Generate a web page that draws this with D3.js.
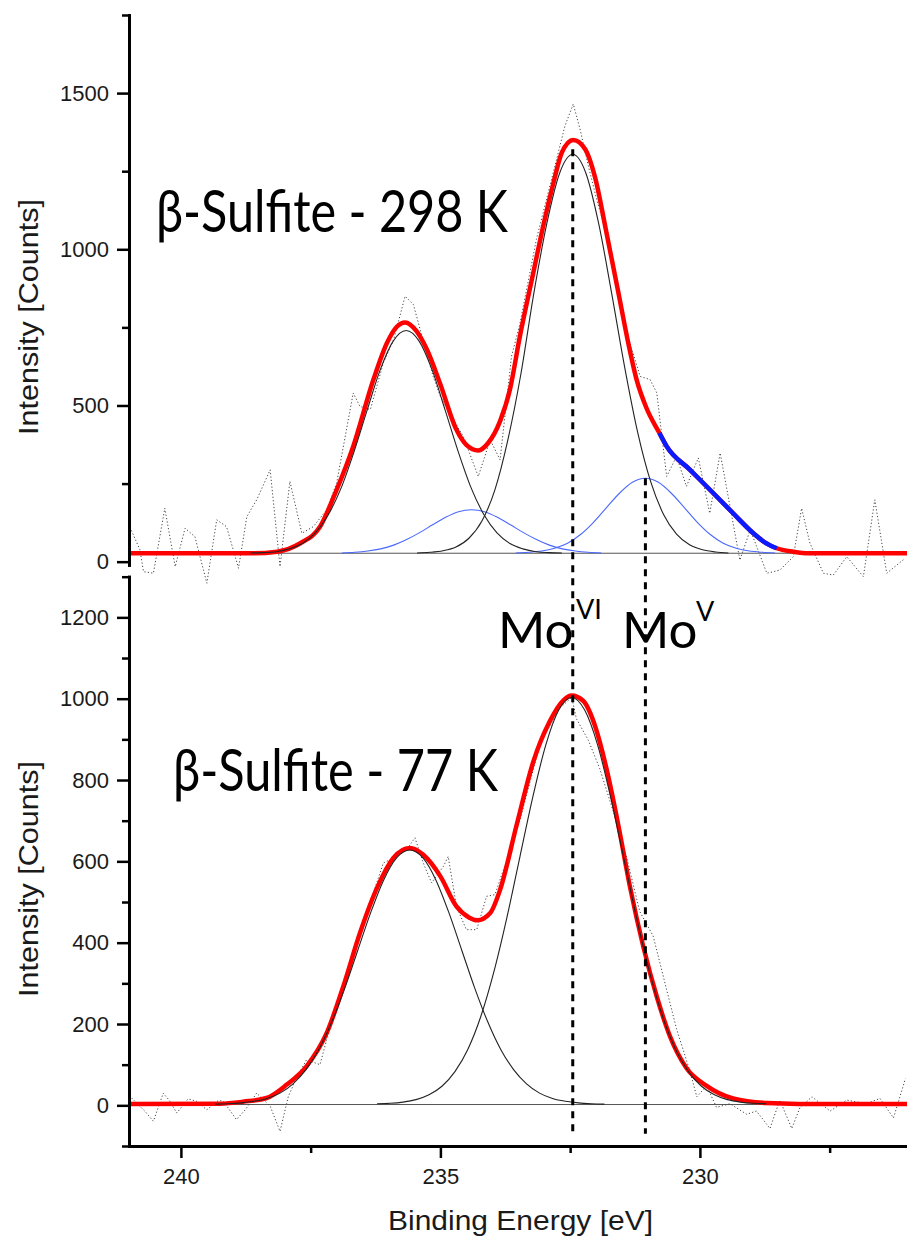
<!DOCTYPE html>
<html>
<head>
<meta charset="utf-8">
<script src="https://cdn.jsdelivr.net/npm/d3@7"></script>
<style>
  body { margin: 0; background: #fff; }
  .axis text { font-family: "Liberation Sans", Arial, sans-serif; font-size: 22px; fill: #1a1a1a; }
  .axis path, .axis line { stroke: #000; }
  .big { font-family: Lato, "Open Sans", sans-serif; fill: #000; }
  .title { font-family: "Liberation Sans", Arial, sans-serif; font-size: 28px; fill: #1a1a1a; }
</style>
</head>
<body>
<div id="chart"></div>
<script>
/* x axis: binding energy (reversed) */
const xDomain = [241, 226];
const xMajor = [240, 235, 230];
const xMinor = [237.5, 232.5, 227.5];

/* y axes */
const topDomain = [-10, 1750];
const topMajor = [0, 500, 1000, 1500];
const topMinor = [250, 750, 1250, 1750];
const botDomain = [-100, 1300];
const botMajor = [0, 200, 400, 600, 800, 1000, 1200];
const botMinor = [-100, 100, 300, 500, 700, 900, 1100, 1300];

/* ---- beta-sulfite 298 K ---- */
const topRawE = [240.98, 240.79, 240.72, 240.53, 240.31, 240.11, 239.92, 239.73, 239.5, 239.31, 239.12, 238.89, 238.73, 238.54, 238.28, 238.09, 237.9, 237.67, 237.45, 237.19, 237.0, 236.68, 236.55, 236.35, 236.1, 235.9, 235.68, 235.52, 235.39, 235.14, 235.0, 234.75, 234.56, 234.27, 234.04, 233.85, 233.63, 233.47, 233.15, 232.89, 232.6, 232.44, 232.31, 232.15, 231.99, 231.86, 231.6, 231.41, 231.15, 230.96, 230.83, 230.74, 230.64, 230.45, 230.26, 230.03, 229.81, 229.61, 229.36, 229.23, 229.03, 228.71, 228.46, 228.2, 228.04, 227.88, 227.62, 227.43, 227.17, 226.85, 226.63, 226.4, 226.05];
const topRawV = [110, 38, -32, -37, 171, -16, 107, 80, -69, 134, 112, -21, 144, 198, 294, -16, 257, 91, 112, 166, 251, 540, 497, 487, 636, 711, 850, 823, 743, 593, 529, 454, 401, 273, 390, 326, 657, 760, 1032, 1203, 1395, 1465, 1385, 1267, 1160, 1085, 882, 733, 593, 583, 540, 412, 273, 337, 241, 332, 155, 348, 123, 5, 102, -37, -27, 16, 171, 59, -37, -43, 16, -48, 198, -37, 10];

const topFitE = [241, 238.6, 238.15, 237.7, 237.32, 237.0, 236.68, 236.29, 236.03, 235.84, 235.68, 235.46, 235.26, 235.01, 234.69, 234.5, 234.27, 234.08, 233.85, 233.66, 233.47, 233.21, 233.02, 232.82, 232.66, 232.44, 232.21, 232.02, 231.8, 231.57, 231.38, 231.22, 231.03, 230.78, 230.64, 230.19, 229.74, 229.36, 228.97, 228.75, 228.52, 228.2, 227.9, 226];
const topFitV = [27, 27, 32, 59, 112, 230, 369, 583, 700, 752, 766, 738, 679, 572, 422, 374, 356, 380, 450, 551, 720, 925, 1074, 1214, 1310, 1350, 1320, 1230, 1053, 861, 700, 583, 492, 412, 369, 294, 219, 155, 91, 62, 43, 32, 27, 27];

const topShoulderE = [230.78, 230.64, 230.19, 229.74, 229.36, 228.97, 228.75, 228.52];
const topShoulderV = [412, 369, 294, 219, 155, 91, 62, 43];

const topC1E = [238.66, 238.41, 238.16, 237.91, 237.66, 237.41, 237.16, 236.91, 236.66, 236.41, 236.16, 235.91, 235.66, 235.41, 235.16, 234.91, 234.66, 234.41, 234.16, 233.91, 233.66, 233.41, 233.16, 232.91, 232.66];
const topC1V = [28, 29, 32, 41, 58, 92, 150, 237, 354, 486, 614, 706, 740, 706, 614, 486, 354, 237, 150, 92, 58, 41, 32, 29, 28];
const topC2E = [235.45, 235.2, 234.95, 234.7, 234.45, 234.2, 233.95, 233.7, 233.45, 233.2, 232.95, 232.7, 232.45, 232.2, 231.95, 231.7, 231.45, 231.2, 230.95, 230.7, 230.45, 230.2, 229.95, 229.7, 229.45];
const topC2V = [28, 30, 35, 47, 75, 130, 230, 390, 600, 859, 1082, 1245, 1304, 1245, 1082, 859, 623, 415, 257, 151, 88, 54, 38, 31, 28];
const topB1E = [236.9, 236.65, 236.4, 236.15, 235.9, 235.65, 235.4, 235.15, 234.9, 234.65, 234.4, 234.15, 233.9, 233.65, 233.4, 233.15, 232.9, 232.65, 232.4, 232.15, 231.9];
const topB1V = [28, 30, 34, 41, 53, 71, 93, 118, 142, 160, 166, 160, 142, 118, 93, 71, 53, 41, 34, 30, 28];
const topB2E = [233.55, 233.3, 233.05, 232.8, 232.55, 232.3, 232.05, 231.8, 231.55, 231.3, 231.05, 230.8, 230.55, 230.3, 230.05, 229.8, 229.55, 229.3, 229.05, 228.8, 228.55];
const topB2V = [28, 30, 34, 43, 59, 87, 126, 173, 219, 254, 267, 254, 219, 173, 126, 87, 59, 43, 34, 30, 28];
const topBaseE = [241, 226];
const topBaseV = [27, 27];

/* ---- beta-sulfite 77 K ---- */
const botRawE = [240.95, 240.69, 240.53, 240.34, 240.21, 240.08, 239.86, 239.7, 239.5, 239.28, 239.18, 238.93, 238.76, 238.54, 238.28, 238.09, 237.93, 237.78, 237.58, 237.32, 237.19, 236.94, 236.68, 236.42, 236.1, 235.84, 235.65, 235.49, 235.33, 235.17, 234.94, 234.85, 234.69, 234.5, 234.3, 234.11, 233.95, 233.72, 233.47, 233.08, 232.7, 232.47, 232.38, 232.15, 231.93, 231.67, 231.41, 231.16, 230.9, 230.64, 230.45, 230.19, 230.06, 229.87, 229.68, 229.42, 229.1, 228.91, 228.65, 228.46, 228.23, 228.07, 227.84, 227.49, 227.17, 226.79, 226.53, 226.27, 226.04];
const botRawV = [18, -15, -39, 30, 10, -19, 16, 10, -11, 12, 10, -35, -11, 30, -2, -64, 22, 65, 112, 100, 162, 268, 375, 473, 596, 612, 629, 658, 596, 547, 588, 612, 489, 432, 432, 514, 518, 604, 700, 889, 977, 1003, 951, 898, 828, 723, 609, 477, 416, 284, 188, 83, 21, 48, -5, 4, -22, -14, -57, 13, -57, -5, 21, -14, 13, 4, 17, -31, 66];

const botFitE = [241, 239.25, 238.8, 238.35, 237.96, 237.58, 237.19, 236.87, 236.55, 236.21, 235.91, 235.59, 235.33, 235.0, 234.69, 234.45, 234.29, 234.04, 233.85, 233.53, 233.21, 232.89, 232.63, 232.47, 232.25, 232.02, 231.8, 231.57, 231.35, 231.09, 230.83, 230.58, 230.26, 229.87, 229.36, 228.71, 227.5, 226];
const botFitV = [3, 4, 9, 18, 51, 96, 178, 293, 424, 538, 608, 633, 616, 563, 489, 462, 455, 473, 530, 690, 845, 945, 996, 1008, 995, 933, 828, 688, 539, 390, 267, 171, 92, 48, 17, 6, 3, 3];

const botC1E = [239.34, 239.09, 238.84, 238.59, 238.34, 238.09, 237.84, 237.59, 237.34, 237.09, 236.84, 236.59, 236.34, 236.09, 235.84, 235.59, 235.34, 235.09, 234.84, 234.59, 234.34, 234.09, 233.84, 233.59, 233.34, 233.09, 232.84, 232.59, 232.34, 232.09, 231.84];
const botC1V = [3, 4, 6, 10, 17, 30, 53, 88, 138, 206, 289, 382, 475, 555, 609, 628, 609, 555, 475, 382, 289, 206, 138, 88, 53, 30, 17, 10, 6, 4, 3];
const botC2E = [236.22, 235.97, 235.72, 235.47, 235.22, 234.97, 234.72, 234.47, 234.22, 233.97, 233.72, 233.47, 233.22, 232.97, 232.72, 232.47, 232.22, 231.97, 231.72, 231.47, 231.22, 230.97, 230.72, 230.47, 230.22, 229.97, 229.72, 229.47, 229.22, 228.97, 228.72];
const botC2V = [4, 5, 8, 14, 26, 47, 83, 138, 219, 328, 461, 610, 758, 886, 972, 1003, 972, 886, 758, 610, 461, 328, 219, 138, 83, 47, 26, 14, 8, 5, 4];
const botBaseE = [241, 226];
const botBaseV = [2, 2];

/* Mo VI / Mo V marker lines: energy, top end (298 K counts), bottom end (77 K counts) */
const markerE = [232.45, 231.05];
const markerTopV = [1320, 267];
const markerBotV = [-70, -70];


const width = 907, height = 1239;
const svg = d3.select("#chart").append("svg")
    .attr("width", width).attr("height", height)
    .style("background", "#fff");

const x = d3.scaleLinear().domain(xDomain).range([129, 907.5]);
const yTop = d3.scaleLinear().domain(topDomain).range([564.8, 15]);
const yBot = d3.scaleLinear().domain(botDomain).range([1146, 576.7]);

function zip(es, vs) { return es.map((e, i) => [e, vs[i]]); }

// one curve of a panel
function curve(y, es, vs, color, w, dash, crv) {
    svg.append("path")
        .datum(zip(es, vs))
        .attr("d", d3.line().x(d => x(d[0])).y(d => y(d[1])).curve(crv || d3.curveMonotoneX))
        .attr("fill", "none")
        .attr("stroke", color)
        .attr("stroke-width", w)
        .attr("stroke-linejoin", "round")
        .attr("stroke-dasharray", dash || null);
}

/* top panel */
curve(yTop, topBaseE, topBaseV, "#555", 1);
curve(yTop, topRawE, topRawV, "#444", 1, "1.2,2.2", d3.curveLinear);
curve(yTop, topFitE, topFitV, "#ff0000", 4.5);
curve(yTop, topShoulderE, topShoulderV, "#0a1cff", 4.5);
curve(yTop, topB1E, topB1V, "#4a68ff", 1.1);
curve(yTop, topB2E, topB2V, "#4a68ff", 1.1);
curve(yTop, topC1E, topC1V, "#222", 1.1);
curve(yTop, topC2E, topC2V, "#222", 1.1);

/* bottom panel */
curve(yBot, botBaseE, botBaseV, "#555", 1);
curve(yBot, botRawE, botRawV, "#444", 1, "1.2,2.2", d3.curveLinear);
curve(yBot, botFitE, botFitV, "#ff0000", 4.5);
curve(yBot, botC1E, botC1V, "#222", 1.1);
curve(yBot, botC2E, botC2V, "#222", 1.1);

/* dashed marker lines across both panels */
svg.selectAll(".marker")
    .data(markerE)
    .enter()
    .append("line")
    .attr("class", "marker")
    .attr("x1", d => x(d)).attr("x2", d => x(d))
    .attr("y1", (d, i) => yTop(markerTopV[i]))
    .attr("y2", (d, i) => yBot(markerBotV[i]))
    .attr("stroke", "#000")
    .attr("stroke-width", 3)
    .attr("stroke-dasharray", "7,6");

/* axes */
function styleAxis(g, domainW, tickW) {
    g.attr("class", "axis");
    g.select(".domain").attr("stroke-width", domainW).attr("stroke-linecap", "square");
    g.selectAll(".tick line").attr("stroke-width", tickW);
}

const fmt = d3.format("d");

const axTop = svg.append("g").attr("transform", "translate(129,0)")
    .call(d3.axisLeft(yTop).tickValues(topMajor).tickSize(12).tickSizeOuter(0).tickPadding(8).tickFormat(fmt));
styleAxis(axTop, 3, 2.5);
const axTopMinor = svg.append("g").attr("transform", "translate(129,0)")
    .call(d3.axisLeft(yTop).tickValues(topMinor).tickSize(7).tickSizeOuter(0).tickFormat(""));
styleAxis(axTopMinor, 3, 2.5);

const axBot = svg.append("g").attr("transform", "translate(129,0)")
    .call(d3.axisLeft(yBot).tickValues(botMajor).tickSize(12).tickSizeOuter(0).tickPadding(8).tickFormat(fmt));
styleAxis(axBot, 3, 2.5);
const axBotMinor = svg.append("g").attr("transform", "translate(129,0)")
    .call(d3.axisLeft(yBot).tickValues(botMinor).tickSize(7).tickSizeOuter(0).tickFormat(""));
styleAxis(axBotMinor, 3, 2.5);

const axX = svg.append("g").attr("transform", "translate(0,1146)")
    .call(d3.axisBottom(x).tickValues(xMajor).tickSize(12).tickSizeOuter(0).tickPadding(10).tickFormat(fmt));
styleAxis(axX, 3, 2.5);
const axXMinor = svg.append("g").attr("transform", "translate(0,1146)")
    .call(d3.axisBottom(x).tickValues(xMinor).tickSize(7).tickSizeOuter(0).tickFormat(""));
styleAxis(axXMinor, 3, 2.5);

/* axis titles */
svg.append("text").attr("class", "title")
    .attr("transform", "translate(38,317) rotate(-90)")
    .attr("text-anchor", "middle")
    .attr("textLength", 236).attr("lengthAdjust", "spacingAndGlyphs")
    .text("Intensity [Counts]");
svg.append("text").attr("class", "title")
    .attr("transform", "translate(38,879) rotate(-90)")
    .attr("text-anchor", "middle")
    .attr("textLength", 236).attr("lengthAdjust", "spacingAndGlyphs")
    .text("Intensity [Counts]");
svg.append("text").attr("class", "title")
    .attr("x", 388).attr("y", 1230)
    .attr("textLength", 265).attr("lengthAdjust", "spacingAndGlyphs")
    .text("Binding Energy [eV]");

/* panel labels */
svg.append("text").attr("class", "big")
    .attr("x", 156).attr("y", 232).style("font-size", "58px")
    .attr("textLength", 352).attr("lengthAdjust", "spacingAndGlyphs")
    .text("β-Sulfite - 298 K");
svg.append("text").attr("class", "big")
    .attr("x", 173).attr("y", 791).style("font-size", "58px")
    .attr("textLength", 325).attr("lengthAdjust", "spacingAndGlyphs")
    .text("β-Sulfite - 77 K");

// Mo oxidation state labels
svg.append("text").attr("class", "big").attr("x", 498).attr("y", 648).style("font-size", "51px").text("Mo");
svg.append("text").attr("class", "big").attr("x", 576).attr("y", 619).style("font-size", "27px").text("VI");
svg.append("text").attr("class", "big").attr("x", 622).attr("y", 648).style("font-size", "51px").text("Mo");
svg.append("text").attr("class", "big").attr("x", 696).attr("y", 621).style("font-size", "27px").text("V");
</script>
</body>
</html>
